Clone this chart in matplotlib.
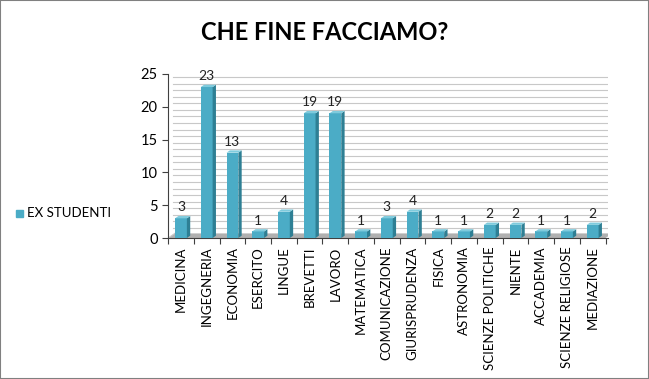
import matplotlib.pyplot as plt
import numpy as np

categories = ["MEDICINA", "INGEGNERIA", "ECONOMIA", "ESERCITO", "LINGUE", "BREVETTI",
              "LAVORO", "MATEMATICA", "COMUNICAZIONE", "GIURISPRUDENZA", "FISICA",
              "ASTRONOMIA", "SCIENZE POLITICHE", "NIENTE", "ACCADEMIA",
              "SCIENZE RELIGIOSE", "MEDIAZIONE"]
values = [3, 23, 13, 1, 4, 19, 19, 1, 3, 4, 1, 1, 2, 2, 1, 1, 2]
series_name = "EX STUDENTI"
title = "CHE FINE FACCIAMO?"

plt.rcParams['font.family'] = ['Lato', 'DejaVu Sans']

fig = plt.figure(figsize=(6.49, 3.79), dpi=100)
ax = fig.add_axes([0.259, 0.372, 0.678, 0.433])

n = len(categories)
x = np.arange(n)
w = 0.46
dx, dy = 0.13, 0.35   # pseudo depth in data units

front = "#4BACC6"
side = "#2E7F94"
top = "#7FCBDD"

# back wall gridlines (every unit)
for g in range(0, 26):
    ax.plot([-0.5 + dx * 1.5, n - 0.5 + dx * 1.5], [g + dy * 1.5, g + dy * 1.5],
            color="#c8c8c8", lw=0.8, zorder=0)
# floor
ax.fill([-0.5, n - 0.5, n - 0.5 + dx * 2, -0.5 + dx * 2], [0, 0, dy * 2, dy * 2],
        color="#b0b0b0", zorder=1, lw=0)
# left wall edge
ax.plot([-0.5, -0.5 + dx * 2], [0, dy * 2], color="#c8c8c8", lw=0.8)

ax.bar(x, values, width=w, color=front, zorder=3, edgecolor="none")
for xi, v in zip(x, values):
    r = xi + w / 2
    l = xi - w / 2
    ax.fill([r, r + dx, r + dx, r], [0, dy, v + dy, v], color=side, zorder=3, lw=0)
    ax.fill([l, r, r + dx, l + dx], [v, v, v + dy, v + dy], color=top, zorder=3, lw=0)
    ax.text(xi, v + dy + 0.4, str(v), ha="center", va="bottom", fontsize=10, color="#222222")

ax.set_xlim(-0.5, n - 0.5 + 0.1)
ax.set_ylim(0, 25)
ax.set_yticks(range(0, 26, 5))
ax.set_xticks(np.arange(-0.5, n, 1.0))
ax.set_xticklabels([])
ax.set_xticks(x, minor=True)
ax.set_xticklabels(categories, minor=True, rotation=90, fontsize=9.5)
ax.tick_params(axis="x", which="minor", length=0, pad=6)
ax.tick_params(axis="x", which="major", length=4, color="#404040")
ax.tick_params(axis="y", length=4, color="#404040", labelsize=10.5)

for s in ["top", "right"]:
    ax.spines[s].set_visible(False)
ax.spines["left"].set_color("#404040")
ax.spines["bottom"].set_color("#404040")
ax.patch.set_visible(False)

fig.text(0.5, 0.915, title, ha="center", va="center", fontsize=17, fontweight="bold")

fig.patches.append(plt.Rectangle((0.024, 0.427), 0.011, 0.019, transform=fig.transFigure,
                                 color=front, figure=fig))
fig.text(0.042, 0.437, series_name, ha="left", va="center", fontsize=9.5)

fig.patches.append(plt.Rectangle((0, 0), 1, 1, transform=fig.transFigure, fill=False,
                                 edgecolor="#808080", lw=1.5, figure=fig))

fig.savefig("out.png", dpi=100)
